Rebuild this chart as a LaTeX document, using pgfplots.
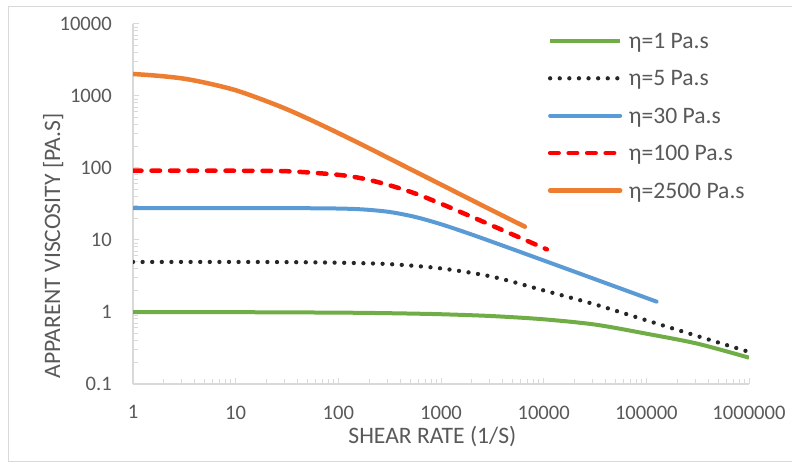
\documentclass[border=0pt]{standalone}
\usepackage{fontspec}
\setmainfont{Carlito}
\usepackage{pgfplots}
\pgfplotsset{compat=1.18}
\definecolor{cgreen}{HTML}{70AD47}
\definecolor{cblue}{HTML}{5B9BD5}
\definecolor{corange}{HTML}{ED7D31}
\definecolor{cred}{HTML}{FF0000}
\definecolor{cdot}{HTML}{262626}
\definecolor{caxis}{HTML}{D9D9D9}
\definecolor{ctext}{HTML}{595959}
\begin{document}
\begin{tikzpicture}
\draw[caxis, line width=1bp] (8bp,2bp) rectangle (800bp,457bp);
\begin{axis}[
  at={(133bp,80bp)}, anchor=south west,
  scale only axis, width=616bp, height=360bp,
  xmode=log, ymode=log,
  xmin=1, xmax=1000000, ymin=0.1, ymax=10000,
  axis x line=bottom, axis y line=left,
  axis line style={draw=caxis, line width=1.5bp, -},
  tick align=inside,
  major tick length=6bp, minor tick length=5bp,
  tick style={caxis, line width=1bp},
  log ticks with fixed point,
  /pgf/number format/1000 sep={},
  /pgf/number format/assume math mode=true,
  ticklabel style={font=\fontsize{20.6bp}{24bp}\selectfont, text=ctext},
  yticklabel style={anchor=east, inner sep=0pt, xshift=-21bp},
  xticklabel style={anchor=north, inner sep=0pt, yshift=-21.5bp},
  xlabel={SHEAR RATE (1/S)},
  xlabel style={at={(rel axis cs:0.486,-0.1639)}, anchor=base, inner sep=0pt, font=\fontsize{23.6bp}{28bp}\selectfont, text=ctext},
  ylabel={APPARENT VISCOSITY [PA.S]},
  ylabel style={at={(rel axis cs:-0.1185,0.3833)}, anchor=base, inner sep=0pt, font=\fontsize{23.6bp}{28bp}\selectfont, text=ctext},
  legend cell align=left,
  legend style={draw=none, fill=none, at={(0.6732,0.9747)}, anchor=north west, inner sep=0pt, row sep=22.2bp, font=\fontsize{23.6bp}{28bp}\selectfont, text=ctext, nodes={inner sep=0pt, text height=15.2bp, text depth=0pt, text=ctext}, /tikz/every odd column/.append style={column sep=6.5bp}},
  legend image code/.code={\draw[#1] (0bp,0bp) -- (70bp,0bp);},
]
\addplot[cgreen, line width=4bp, smooth] coordinates {
 (1,0.998) (10,0.994) (100,0.980) (316.2,0.962) (1000,0.931) (3162,0.8775) (10000,0.792) (31623,0.669) (100000,0.50) (316228,0.3626) (1000000,0.232)};
\addlegendentry{η=1 Pa.s}
\addplot[cdot, line width=4.3bp, line cap=round, dash pattern=on 0bp off 9.6bp, smooth] coordinates {
 (1,4.955) (10,4.955) (31.62,4.93) (100,4.84) (316.2,4.62) (1000,4.03) (3162,3.09) (10000,1.995) (31623,1.274) (100000,0.767) (316228,0.462) (1000000,0.279)};
\addlegendentry{η=5 Pa.s}
\addplot[cblue, line width=4bp, line cap=round, smooth] coordinates {
 (1,27.8) (10,27.8) (31.62,27.73) (100,27.35) (177.8,26.52) (316.2,24.49) (562.3,20.89) (1000,16.56) (1778,12.60) (3162,9.42) (10000,5.20) (31623,2.858) (125893,1.393)};
\addlegendentry{η=30 Pa.s}
\addplot[cred, line width=4.5bp, line cap=round, dash pattern=on 8.5bp off 10bp, smooth] coordinates {
 (1,91.8) (10,91.6) (31.62,90.2) (100,80.4) (177.8,70.8) (316.2,57.5) (562.3,44.2) (1000,31.9) (1778,22.5) (3162,15.8) (5623,11.07) (10715,7.41)};
\addlegendentry{η=100 Pa.s}
\addplot[corange, line width=4.5bp, line cap=round, smooth] coordinates {
 (1,2023) (1.778,1905) (3.162,1738) (5.623,1479) (10,1202) (17.78,901.6) (31.62,653.1) (56.23,451.9) (100,305.5) (177.8,204.2) (316.2,134.9) (562.3,89.1) (1000,58.9) (1778,38.9) (3162,25.7) (6561,15.31)};
\addlegendentry{η=2500 Pa.s}
\end{axis}
\pgfresetboundingbox
\useasboundingbox (0,0) rectangle (792bp,464bp);
\end{tikzpicture}
\end{document}
